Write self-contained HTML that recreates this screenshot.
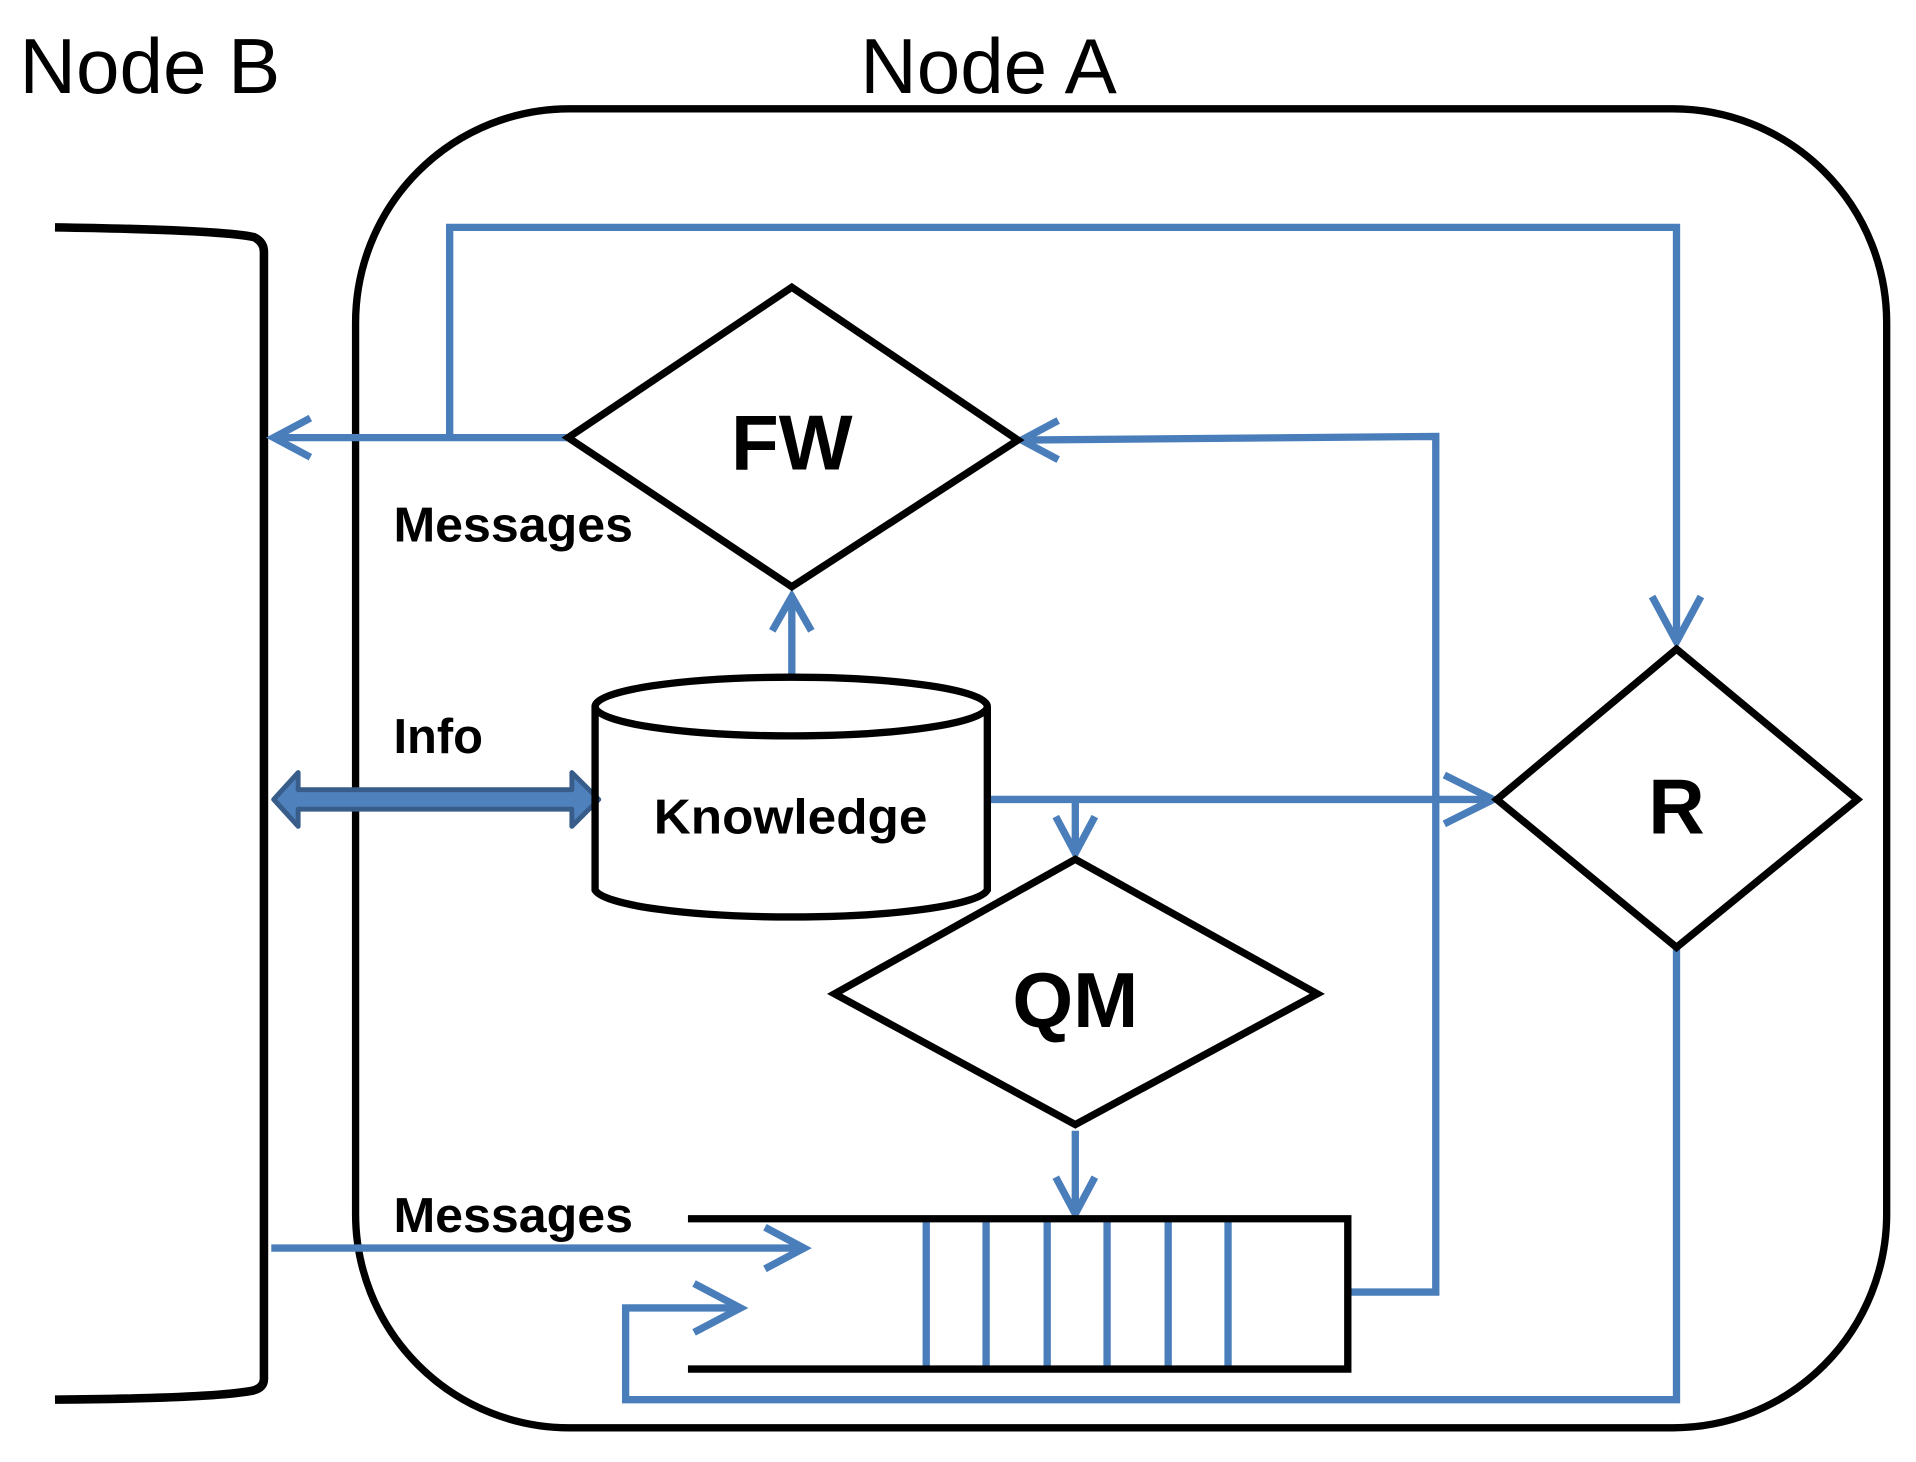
<!DOCTYPE html>
<html><head><meta charset="utf-8"><style>
html,body{margin:0;padding:0;background:#fff;}
svg{display:block;}
text{font-family:"Liberation Sans",sans-serif;}
</style></head><body>
<svg width="1916" height="1462" viewBox="0 0 1568 1196" preserveAspectRatio="none" xmlns="http://www.w3.org/2000/svg">
<text x="16" y="76" font-size="64" fill="#000">Node B</text>
<text x="704" y="76" font-size="64" fill="#000">Node A</text>
<!-- Node B bracket -->
<path d="M45,186 Q180,188 208,194 Q216,198 216,206 L216,1128 Q216,1136 205,1138 Q170,1144 45,1145" fill="none" stroke="#000" stroke-width="7"/>
<!-- Node A rounded box -->
<rect x="291" y="89" width="1253" height="1079" rx="175" ry="175" fill="none" stroke="#000" stroke-width="6"/>
<g fill="none" stroke="#4a7ebb" stroke-width="6">
<polyline points="368,357 368,186 1372,186 1372,525"/>
<polyline points="1352,488 1372,525 1392,488"/>
<line x1="465" y1="358" x2="224" y2="358"/>
<polyline points="254,342 224,358 254,374"/>
<polyline points="1103,1057 1175,1057 1175,357 836,360"/>
<polyline points="866,344 836,360 866,376"/>
<line x1="758" y1="997" x2="758" y2="1120"/><line x1="807" y1="997" x2="807" y2="1120"/>
<line x1="857" y1="997" x2="857" y2="1120"/><line x1="906" y1="997" x2="906" y2="1120"/>
<line x1="956" y1="997" x2="956" y2="1120"/><line x1="1005" y1="997" x2="1005" y2="1120"/>
<line x1="648" y1="553" x2="648" y2="488"/>
<polyline points="632,516 648,488 664,516"/>
<line x1="808" y1="654" x2="1222" y2="654"/>
<polyline points="1182,634 1222,654 1182,674"/>
<line x1="880" y1="654" x2="880" y2="698"/>
<polyline points="864,668 880,698 896,668"/>
<line x1="880" y1="925" x2="880" y2="993"/>
<polyline points="864,963 880,993 896,963"/>
<polyline points="1372,775 1372,1145 512,1145 512,1070 606,1070"/>
<polyline points="568,1050 606,1070 568,1090"/>
<line x1="222" y1="1021" x2="658" y2="1021"/>
<polyline points="626,1004 658,1021 626,1038"/>
</g>
<path d="M224,654 L244,632 L244,646 L468,646 L468,632 L490,654 L468,676 L468,662 L244,662 L244,676 Z" fill="#4f81bd" stroke="#385d8a" stroke-width="4" stroke-linejoin="round"/>
<g fill="none" stroke="#000" stroke-width="6">
<polygon points="648,235 833,360 648,480 465,358" fill="#fff"/>
<polygon points="1372,531 1520,654 1372,775 1225,654"/>
<polygon points="880,703 1078,813 880,920 683,813"/>
<polyline points="563,997 1103,997 1103,1120 563,1120"/>
<path d="M487,578 L487,728 A161,24 0 0 0 808,728 L808,578"/>
<ellipse cx="647.5" cy="578" rx="160.5" ry="24"/>
</g>
<g font-weight="bold" fill="#000">
<text x="322" y="443" font-size="40" textLength="196" lengthAdjust="spacingAndGlyphs">Messages</text>
<text x="322" y="616" font-size="40">Info</text>
<text x="322" y="1008" font-size="40" textLength="196" lengthAdjust="spacingAndGlyphs">Messages</text>
<text x="535" y="682" font-size="40" textLength="224" lengthAdjust="spacingAndGlyphs">Knowledge</text>
<text x="648" y="384" font-size="64" text-anchor="middle">FW</text>
<text x="880" y="840" font-size="64" text-anchor="middle">QM</text>
<text x="1372" y="682" font-size="64" text-anchor="middle">R</text>
</g>
</svg>
</body></html>
